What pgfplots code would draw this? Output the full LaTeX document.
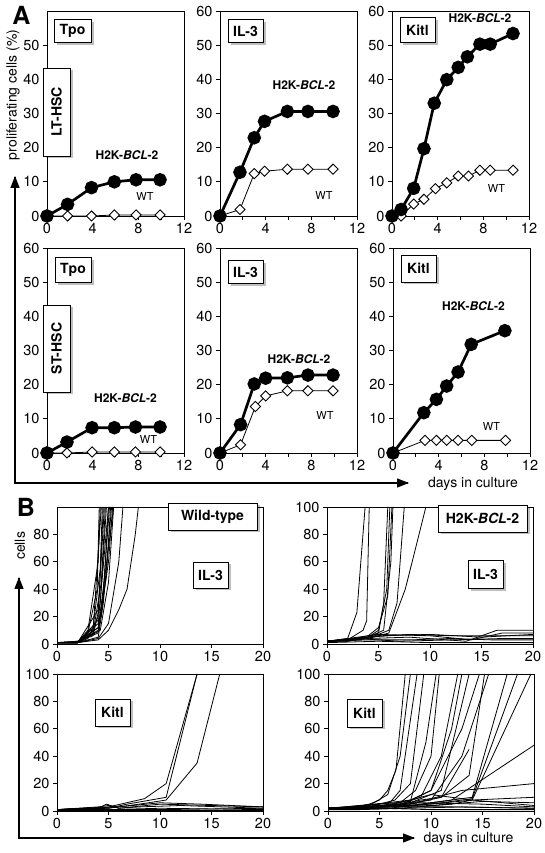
\documentclass[border=0pt]{standalone}
\usepackage{fontspec}
\setmainfont{TeX Gyre Heros}
\usepackage{pgfplots}
\pgfplotsset{compat=1.18}
\usetikzlibrary{shadows,arrows.meta}
\pgfplotsset{
 common/.style={scale only axis, tick pos=left, tick align=outside,
   major tick length=4pt, minor tick length=4pt,
   axis line style={line width=0.9pt},
   every tick/.style={black, line width=0.9pt},
   tick label style={font=\fontsize{14.5}{14.5}\selectfont},
   /pgf/number format/assume math mode=true, anchor=south west},
 pa/.style={common, width=137pt, height=205pt, xmin=0, xmax=12, ymin=0, ymax=60,
   xtick={0,4,8,12}, minor xtick={2,6,10}, ytick={0,10,...,60}, clip=false},
 pb/.style={common, width=206pt, height=137pt, xmin=0, xmax=20, ymin=0, ymax=100,
   xtick={0,5,...,20}, ytick={0,20,...,100}},
 bcl/.style={black, line width=2.7pt, mark=*, mark size=5.4pt, mark options={solid, fill=black}},
 wt/.style={black, line width=0.8pt, mark=square*, mark size=3.6pt, mark options={solid, rotate=45, fill=white, draw=black, line width=0.9pt}},
 bl/.style={black, line width=0.8pt, line join=round},
}
\tikzset{
 lbl/.style={draw=black, line width=0.9pt, fill=white, inner sep=0pt,
   font=\bfseries\fontsize{14}{14}\selectfont,
   drop shadow={shadow xshift=2.5pt, shadow yshift=-2.5pt, fill=black, opacity=0.25}},
 ann/.style={font=\bfseries\fontsize{12}{12}\selectfont, inner sep=0pt},
 wtl/.style={font=\fontsize{11}{11}\selectfont, inner sep=0pt},
}
\newcommand{\bcl}{H2K-\textit{BCL}-2}
\begin{document}
\begin{tikzpicture}[x=1pt,y=1pt]
\path[use as bounding box] (0pt,0pt) rectangle (545pt,853pt);
% ---------- Panel A, LT-HSC ----------
\begin{axis}[pa, at={(47pt,637pt)}, ytick={0,10,...,50}]
\addplot[wt] coordinates {(0,0)(1.8,0)(3.9,0)(5.9,0.3)(7.8,0.3)(9.9,0.3)};
\addplot[bcl] coordinates {(0,0)(1.8,3.4)(3.9,8.3)(5.9,10)(7.8,10.6)(9.9,10.6)};
\end{axis}
\begin{axis}[pa, at={(220pt,637pt)}]
\addplot[wt] coordinates {(0,0)(1.75,1.9)(3,12.4)(3.9,13.1)(5.9,13.7)(7.7,13.7)(9.9,13.7)};
\addplot[bcl] coordinates {(0,0)(1.75,12.8)(3,22.9)(3.9,27.7)(5.9,30.6)(7.7,30.6)(9.9,30.6)};
\end{axis}
\begin{axis}[pa, at={(392pt,637pt)}]
\addplot[wt] coordinates {(0,0)(0.8,0)(1.9,3.5)(2.8,4.9)(3.8,8)(4.8,9.7)(5.8,11.7)(6.7,11.7)(7.7,13.4)(8.6,13.4)(10.6,13.4)};
\addplot[bcl] coordinates {(0,0)(0.8,1.9)(1.9,8.1)(2.8,19.7)(3.7,33)(4.8,39.9)(5.8,43.5)(6.6,46.6)(7.7,50.3)(8.6,50.3)(10.6,53.4)};
\end{axis}
% ---------- Panel A, ST-HSC ----------
\begin{axis}[pa, at={(47pt,400pt)}]
\addplot[wt] coordinates {(0,0)(1.75,0)(3.95,0.3)(5.9,0.3)(7.75,0.3)(9.9,0.3)};
\addplot[bcl] coordinates {(0,0)(1.75,3.2)(3.95,7.4)(5.9,7.4)(7.75,7.6)(9.9,7.6)};
\end{axis}
\begin{axis}[pa, at={(220pt,400pt)}]
\addplot[wt] coordinates {(0,0)(1.8,2.4)(3.1,13.6)(4,16.7)(5.9,18.2)(7.7,18.2)(9.9,18.2)};
\addplot[bcl] coordinates {(0,0)(1.8,8.3)(3,20.2)(4,21.9)(5.9,22)(7.7,22.8)(9.9,22.8)};
\end{axis}
\begin{axis}[pa, at={(393pt,400pt)}]
\addplot[wt] coordinates {(0,0)(2.8,3.7)(3.8,3.7)(4.7,3.7)(5.7,3.7)(6.9,3.7)(9.85,3.7)};
\addplot[bcl] coordinates {(0,0)(2.7,11.8)(3.8,15.7)(4.7,19.6)(5.7,23.7)(6.85,31.8)(9.8,35.8)};
\end{axis}
% ---------- Panel B, IL-3 wild-type ----------
\begin{axis}[pb, at={(57pt,209pt)}, ytick={0,20,...,80}]
\addplot[bl] coordinates {(0,1)(2,1)(3,8)(3.9,40)(4.1,100)};
\addplot[bl] coordinates {(0,1)(2,1.5)(3,10)(4,60)(4.2,100)};
\addplot[bl] coordinates {(0,1)(2,1)(3.5,12)(4.2,55)(4.4,100)};
\addplot[bl] coordinates {(0,1)(2,1)(3.5,8)(4.3,45)(4.7,100)};
\addplot[bl] coordinates {(0,1)(2,2)(3.5,6)(4.2,30)(4.8,100)};
\addplot[bl] coordinates {(0,1)(2,1)(4,10)(4.5,35)(5,100)};
\addplot[bl] coordinates {(0,1)(2,1)(4,12)(4.8,50)(5.2,100)};
\addplot[bl] coordinates {(0,1)(2,1)(4,5)(4.5,30)(5.3,100)};
\addplot[bl] coordinates {(0,1)(2,2)(4,8)(5,60)(5.4,100)};
\addplot[bl] coordinates {(0,1)(2,1)(4.2,10)(5,45)(5.5,100)};
\addplot[bl] coordinates {(0,1)(2,1)(4,12)(5,70)(5.5,100)};
\addplot[bl] coordinates {(0,1)(2,1)(4,4)(5,15)(6,60)(6.4,100)};
\addplot[bl] coordinates {(0,1)(2,1)(4,3)(5,10)(6,25)(6.8,40)(7.6,80)(7.9,100)};
\addplot[bl] coordinates {(0,1)(2,1)(3,4)(4,20)(4.5,100)};
\addplot[bl] coordinates {(0,1)(2,1)(4,25)(4.6,100)};
\addplot[bl] coordinates {(0,1)(2,1.5)(4,15)(5,100)};
\addplot[bl] coordinates {(0,1)(2,1)(3.5,10)(4.3,100)};
\addplot[bl] coordinates {(0,1)(2,1)(4.3,20)(5.1,100)};
\end{axis}
% ---------- Panel B, IL-3 H2K-BCL-2 ----------
\begin{axis}[pb, at={(327pt,209pt)}]
\addplot[bl] coordinates {(0,2)(2,4)(2.9,23)(3.7,100)};
\addplot[bl] coordinates {(0,2)(2,3)(3.5,10)(3.85,17)(4.1,100)};
\addplot[bl] coordinates {(0,2)(2,3)(4,5)(5,10)(5.8,40)(6.1,100)};
\addplot[bl] coordinates {(0,2)(2,3)(4,6)(5,12)(5.9,35)(6.3,100)};
\addplot[bl] coordinates {(0,2)(2,2)(4,5)(5.5,10)(6.2,60)(6.4,100)};
\addplot[bl] coordinates {(0,2)(2,3)(4,4)(6,10)(6.8,30)(7.5,100)};
\addplot[bl] coordinates {(0,2)(2,2)(4,4)(6,8)(7.6,40)(9.6,100)};
\addplot[bl] coordinates {(0,2)(2,3)(4,5)(5,8)(5.5,30)(5.9,100)};
\addplot[bl] coordinates {(0,2)(4,5)(8,7)(12,6)(16,6)(20,6)};
\addplot[bl] coordinates {(0,2)(4,4)(8,5)(13.5,2)(16.5,10)(20,10)};
\addplot[bl] coordinates {(0,2)(4,3)(8,3)(12,4)(16,3)(20,3)};
\addplot[bl] coordinates {(0,2)(5,6)(10,7)(15,5)(20,7)};
\addplot[bl] coordinates {(0,2)(3,4)(7,2)(12,3)(17,4)(20,4)};
\addplot[bl] coordinates {(0,2)(5,7)(10,6)(14,3)(17,8)(20,8)};
\addplot[bl] coordinates {(0,1)(5,2)(10,1)(15,1)(20,1)};
\end{axis}
% ---------- Panel B, Kitl wild-type ----------
\begin{axis}[pb, at={(57pt,42pt)}]
\addplot[bl] coordinates {(0,1)(5,3)(8.5,9)(10.6,20)(13.6,100)};
\addplot[bl] coordinates {(0,1)(5,2)(6.8,5)(10.6,10)(13.6,100)};
\addplot[bl] coordinates {(0,1)(5,2)(8,5)(10.6,8)(13.6,35)(15.8,100)};
\addplot[bl] coordinates {(0,1)(4,2)(4.8,5)(6,2)(10,5)(20,3)};
\addplot[bl] coordinates {(0,1)(5,1)(10,2)(20,1)};
\addplot[bl] coordinates {(0,0.5)(10,0.5)(20,0.5)};
\addplot[bl] coordinates {(0,1)(4,3)(5,4)(6,2)(8,3)(12,4)(20,2)};
\addplot[bl] coordinates {(0,1)(6,3)(10,6)(14,5)(20,3)};
\addplot[bl] coordinates {(0,1)(3,2)(5,1)(10,1)(20,2)};
\end{axis}
% ---------- Panel B, Kitl H2K-BCL-2 ----------
\begin{axis}[pb, at={(328pt,42pt)}]
\addplot[bl] coordinates {(0,2)(2,2)(4,5)(5,8)(5.8,15)(6.6,30)(7.5,100)};
\addplot[bl] coordinates {(0,2)(2,1)(4,4)(5.8,12)(7,40)(8,100)};
\addplot[bl] coordinates {(0,2)(3,4)(6,6)(7,15)(8.65,100)};
\addplot[bl] coordinates {(0,2)(4,3)(6.5,8)(8,20)(9.3,100)};
\addplot[bl] coordinates {(0,2)(5,5)(8,7)(9.5,50)(10.5,100)};
\addplot[bl] coordinates {(0,2)(4,3)(7,6)(8.5,15)(10,40)(10.8,100)};
\addplot[bl] coordinates {(0,1)(4,2)(7,5)(9,10)(11,40)(12.6,100)};
\addplot[bl] coordinates {(0,2)(5,3)(8,8)(10,15)(12,60)(13,100)};
\addplot[bl] coordinates {(0,2)(5,4)(8,6)(11,15)(13.7,100)};
\addplot[bl] coordinates {(0,1)(7,4)(10,15)(13,60)(14.7,100)};
\addplot[bl] coordinates {(0,1)(6,3)(9,8)(11,10)(13.7,26)(15.2,100)};
\addplot[bl] coordinates {(0,2)(6,4)(10,8)(13,40)(15.6,100)};
\addplot[bl] coordinates {(0,1)(6,2)(10,6)(14,10)(17.4,100)};
\addplot[bl] coordinates {(0,2)(7,3)(11,6)(14,9)(18.4,100)};
\addplot[bl] coordinates {(0,1)(7,2)(12,5)(14,8)(19.7,100)};
\addplot[bl] coordinates {(0,2)(8,5)(11,10)(13.7,45)};
\addplot[bl] coordinates {(0,2)(8,4)(12,8)(20,48)};
\addplot[bl] coordinates {(0,2)(8,5)(13,15)(20,20)};
\addplot[bl] coordinates {(0,1)(10,5)(14,8)(20,10)};
\addplot[bl] coordinates {(0,2)(10,4)(15,7)(20,6)};
\addplot[bl] coordinates {(0,1)(8,8)(10,12)(14,8)(20,4)};
\addplot[bl] coordinates {(0,2)(6,3)(12,3)(20,2)};
\addplot[bl] coordinates {(0,1)(5,2)(10,1)(20,1)};
\addplot[bl] coordinates {(0,2)(4,3)(9,6)(15,5)(20,3)};
\addplot[bl] coordinates {(0,1)(3,1)(8,2)(13,3)(20,2)};
\end{axis}
% ---------- frame arrows and labels ----------
\draw[line width=1.3pt] (15pt,676pt) -- (15pt,370pt) -- (408pt,370pt);
\draw[line width=1.3pt, -{Triangle[length=12pt,width=9pt]}] (15pt,600pt) -- (15pt,677pt);
\draw[line width=1.3pt, -{Triangle[length=12pt,width=9pt]}] (300pt,370pt) -- (409pt,370pt);
\node[font=\fontsize{14}{14}\selectfont, fill=white, inner sep=1pt] at (473pt,369pt) {days in culture};
\node[font=\fontsize{14}{14}\selectfont, rotate=90, inner sep=0pt] at (13pt,758pt) {proliferating cells (\%)};
\node[font=\bfseries\fontsize{25}{25}\selectfont, inner sep=0pt] at (21.5pt,837.5pt) {A};
\draw[line width=1.3pt] (19pt,275pt) -- (19pt,15pt) -- (414pt,15pt);
\draw[line width=1.3pt, -{Triangle[length=12pt,width=9pt]}] (19pt,200pt) -- (19pt,276pt);
\draw[line width=1.3pt, -{Triangle[length=12pt,width=9pt]}] (300pt,15pt) -- (415pt,15pt);
\node[font=\fontsize{14}{14}\selectfont, fill=white, inner sep=1pt] at (468.5pt,14pt) {days in culture};
\node[font=\fontsize{14}{14}\selectfont, rotate=90, inner sep=0pt] at (20pt,307pt) {cells};
\node[font=\bfseries\fontsize{25}{25}\selectfont, inner sep=0pt] at (26pt,345.5pt) {B};
% boxes panel A
\node[lbl, minimum width=37pt, minimum height=23pt] at (72.5pt,822pt) {Tpo};
\node[lbl, minimum width=35pt, minimum height=23pt] at (245.5pt,822pt) {IL-3};
\node[lbl, minimum width=35pt, minimum height=25pt] at (417.5pt,823pt) {Kitl};
\node[lbl, minimum width=36pt, minimum height=25pt] at (73pt,583pt) {Tpo};
\node[lbl, minimum width=35pt, minimum height=23pt] at (245.5pt,581pt) {IL-3};
\node[lbl, minimum width=35pt, minimum height=27pt] at (418.5pt,584.5pt) {Kitl};
\node[lbl, minimum width=27pt, minimum height=88pt] at (56.5pt,741pt) {\rotatebox{90}{LT-HSC}};
\node[lbl, minimum width=27pt, minimum height=87pt] at (56.5pt,504.5pt) {\rotatebox{90}{ST-HSC}};
% annotations panel A
\node[ann] at (127pt,698pt) {\bcl};
\node[wtl] at (145pt,656pt) {WT};
\node[ann] at (304pt,768pt) {\bcl};
\node[wtl] at (324pt,657pt) {WT};
\node[ann] at (480pt,835pt) {\bcl};
\node[wtl] at (496.5pt,664pt) {WT};
\node[ann] at (125.5pt,455pt) {\bcl};
\node[wtl] at (148.5pt,414pt) {WT};
\node[ann] at (299pt,494pt) {\bcl};
\node[wtl] at (325pt,438pt) {WT};
\node[ann] at (473.5pt,547pt) {\bcl};
\node[wtl] at (491.5pt,427pt) {WT};
% boxes panel B
\node[lbl, minimum width=89pt, minimum height=27pt] at (212.5pt,336.5pt) {Wild-type};
\node[lbl, minimum width=35pt, minimum height=26pt] at (210.5pt,278pt) {IL-3};
\node[lbl, minimum width=89pt, minimum height=27pt] at (482.5pt,334.5pt) {\bcl};
\node[lbl, minimum width=35pt, minimum height=28pt] at (485.5pt,278.5pt) {IL-3};
\node[lbl, minimum width=35pt, minimum height=27pt] at (112.5pt,140.5pt) {Kitl};
\node[lbl, minimum width=35pt, minimum height=28pt] at (364.5pt,140pt) {Kitl};
\end{tikzpicture}
\end{document}
